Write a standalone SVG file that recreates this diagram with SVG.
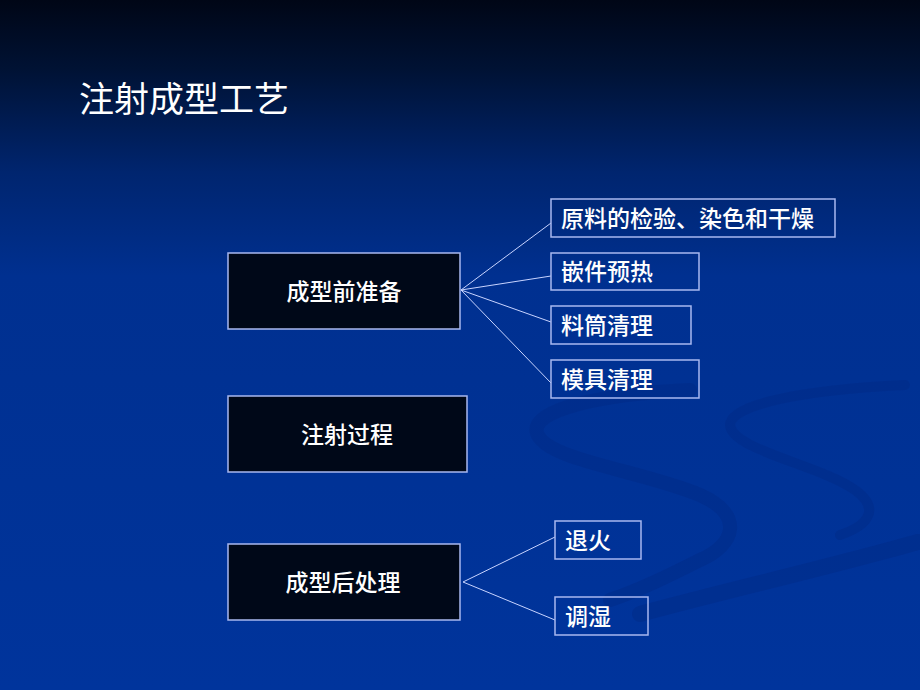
<svg xmlns="http://www.w3.org/2000/svg" width="920" height="690" viewBox="0 0 920 690">
<defs>
<linearGradient id="bg" x1="0" y1="0" x2="0" y2="1">
<stop offset="0" stop-color="#000616"/>
<stop offset="0.1" stop-color="#001234"/>
<stop offset="0.25" stop-color="#00256f"/>
<stop offset="0.4" stop-color="#003090"/>
<stop offset="1" stop-color="#00349c"/>
</linearGradient>
<style>
.main{fill:#000818;stroke:#a8b8f0;stroke-width:1.5}
.sub{fill:none;stroke:#a8b8f0;stroke-width:1.5}
.lbl{font-family:"Noto Sans CJK SC","Liberation Sans",sans-serif;font-size:23px;font-weight:500;fill:#ffffff}
.title{font-family:"Noto Sans CJK SC","Liberation Sans",sans-serif;font-size:35px;fill:#ffffff}
.conn line{stroke:#c8d4ff;stroke-width:1}
.sw{fill:none;stroke:#002b86;stroke-linecap:round;opacity:0.45}
</style>
</defs>
<rect width="920" height="690" fill="url(#bg)"/>
<g id="swirl">
<path class="sw" stroke-width="14" d="M690,390 C600,394 530,410 537,433 C545,460 640,470 700,495 C745,515 735,545 700,560 C670,575 640,590 610,600"/>
<path class="sw" stroke-width="10" d="M905,385 C800,390 730,405 730,425 C732,450 820,465 855,490 C880,508 870,525 840,535"/>
<path class="sw" stroke-width="16" d="M918,542 C830,567 720,592 640,614"/>
</g>
<text class="title" x="79" y="112">注射成型工艺</text>
<g class="conn" id="connectors">
<line x1="461" y1="290" x2="551" y2="223"/>
<line x1="461" y1="290" x2="551" y2="276"/>
<line x1="461" y1="290" x2="551" y2="322"/>
<line x1="461" y1="290" x2="551" y2="383"/>
<line x1="463" y1="582" x2="555" y2="537"/>
<line x1="463" y1="582" x2="555" y2="620"/>
</g>
<g id="n1"><rect class="main" x="228" y="253" width="232" height="76"/><text class="lbl" x="344" y="300" text-anchor="middle">成型前准备</text></g>
<g id="n2"><rect class="main" x="228" y="396" width="239" height="76"/><text class="lbl" x="347" y="443" text-anchor="middle">注射过程</text></g>
<g id="n3"><rect class="main" x="228" y="544" width="232" height="76"/><text class="lbl" x="343" y="591" text-anchor="middle">成型后处理</text></g>
<g id="s1"><rect class="sub" x="551" y="199" width="284" height="38"/><text class="lbl" x="561" y="227">原料的检验、染色和干燥</text></g>
<g id="s2"><rect class="sub" x="551" y="253" width="148" height="37"/><text class="lbl" x="561" y="280">嵌件预热</text></g>
<g id="s3"><rect class="sub" x="551" y="306" width="140" height="38"/><text class="lbl" x="561" y="334">料筒清理</text></g>
<g id="s4"><rect class="sub" x="551" y="360" width="148" height="38"/><text class="lbl" x="561" y="388">模具清理</text></g>
<g id="s5"><rect class="sub" x="555" y="521" width="86" height="38"/><text class="lbl" x="565" y="549">退火</text></g>
<g id="s6"><rect class="sub" x="555" y="597" width="93" height="38"/><text class="lbl" x="565" y="625">调湿</text></g>
</svg>
